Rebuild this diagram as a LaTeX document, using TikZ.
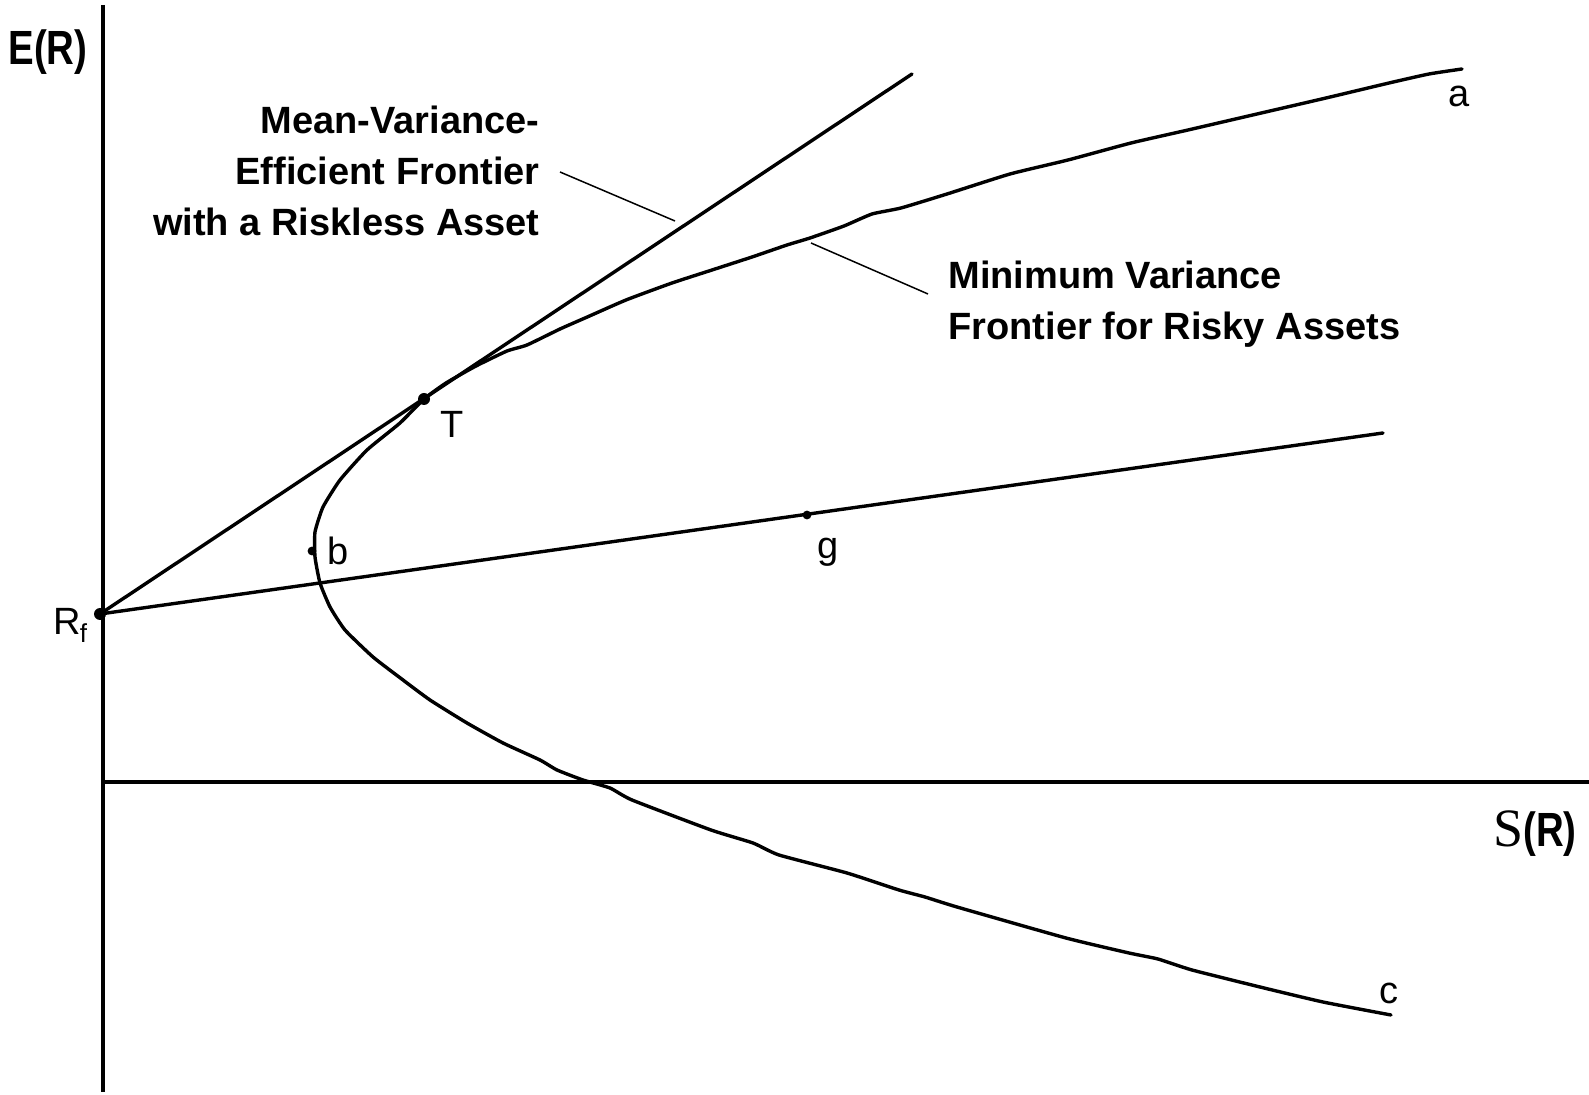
\documentclass[tikz,border=0pt]{standalone}
\usepackage{fontspec}
\setmainfont{Liberation Sans}
\newfontfamily\sigmafont{Liberation Serif}
\tikzstyle{axis}=[line width=1.8pt]
\tikzstyle{frontier}=[line width=1.7pt, line join=round, line cap=round]
\tikzstyle{leader}=[line width=0.75pt]
\tikzstyle{bigdot}=[circle, fill=black, inner sep=0pt, minimum size=6pt]
\tikzstyle{smalldot}=[circle, fill=black, inner sep=0pt, minimum size=4.4pt]
\tikzstyle{ptlabel}=[font=\fontsize{19}{23}\selectfont, inner sep=0pt]
\tikzstyle{caption}=[font=\bfseries\fontsize{19}{25.5}\selectfont, inner sep=0pt]
\tikzstyle{axlabel}=[font=\bfseries\fontsize{24}{28}\selectfont, inner sep=0pt]

\begin{document}
\begin{tikzpicture}[x=0.5pt, y=-0.5pt]
                    \useasboundingbox (0,0) rectangle (1589,1095);
                    % axes
                    \coordinate (ytop)   at (103,5);
                    \coordinate (ybot)   at (103,1092);
                    \coordinate (xleft)  at (103,782);
                    \coordinate (xright) at (1589,782);
                    \draw[axis] (ytop) -- (ybot);
                    \draw[axis] (xleft) -- (xright);
                    \node[axlabel] (ER) at (48,52) {\scalebox{0.8}[1]{E(R)}};
                    \node[axlabel, anchor=east] (SR) at (1577,834)
                        {{\sigmafont\mdseries\fontsize{27}{27}\selectfont S}\scalebox{0.8}[1]{(R)}};
                    % points
                    \coordinate (a)  at (1462,69);
                    \coordinate (c)  at (1391,1015);
                    \coordinate (tanend) at (912,74);
                    \coordinate (gend)   at (1383,433);
                    \node[bigdot]   (Rf) at (100,614) {};
                    \node[bigdot]   (T)  at (424,399) {};
                    \node[smalldot] (b)  at (312,551) {};
                    \node[smalldot] (g)  at (807,515) {};
                    % lines from the riskless asset
                    \draw[frontier] (Rf.center) -- (tanend);
                    \draw[frontier] (Rf.center) -- (gend);
                    % minimum variance frontier
                    \draw[frontier] plot[smooth, tension=0.3] coordinates {
                        (a) (1429,74) (1389,83) (1326,98) (1257,114) (1188,130)
                        (1131,143) (1068,160) (1010,174) (947,194) (901,208)
                        (872,214) (844,226) (810,238) (787,245) (752,257)
                        (712,270) (672,283) (626,300) (585,318) (560,329)
                        (527,345) (507,351) (476,366) (446,383) (T.center)
                        (400,423) (367,450) (340,480) (323,507) (315,532)
                        (315,557) (320,583) (330,607) (345,630) (373,657)
                        (403,680) (430,700) (467,723) (503,743) (540,760)
                        (557,770) (583,780) (610,788) (632,800) (711,830)
                        (753,843) (779,855) (847,873) (899,890) (925,897)
                        (957,907) (1066,938) (1129,953) (1158,959) (1192,970)
                        (1260,987) (1323,1002) (c)};
                    % point labels
                    \node[ptlabel, anchor=base] (alab) at (1459,107) {a};
                    \node[ptlabel, anchor=base] (clab) at (1389,1003) {c};
                    \node[ptlabel, anchor=base] (Tlab) at (452,438) {T};
                    \node[ptlabel, anchor=base] (blab) at (338,565) {b};
                    \node[ptlabel, anchor=base] (glab) at (828,559) {g};
                    \node[ptlabel, anchor=base west] (Rflab) at (53,634)
                        {R\kern-0.5pt\raisebox{-0.22em}{\fontsize{13}{13}\selectfont f}};
                    % captions and leaders
                    \node[caption, align=right, anchor=north east] (mvecap) at (540,106)
                        {Mean-Variance-\\Efficient Frontier\\with a Riskless Asset};
                    \node[caption, align=left, anchor=north west] (mvcap) at (948,261)
                        {Minimum Variance\\Frontier for Risky Assets};
                    \coordinate (mvel1) at (560,172);
                    \coordinate (mvel2) at (675,221);
                    \coordinate (mvl1)  at (811,243);
                    \coordinate (mvl2)  at (928,294);
                    \draw[leader] (mvel1) -- (mvel2);
                    \draw[leader] (mvl1) -- (mvl2);
                \end{tikzpicture}
\end{document}
